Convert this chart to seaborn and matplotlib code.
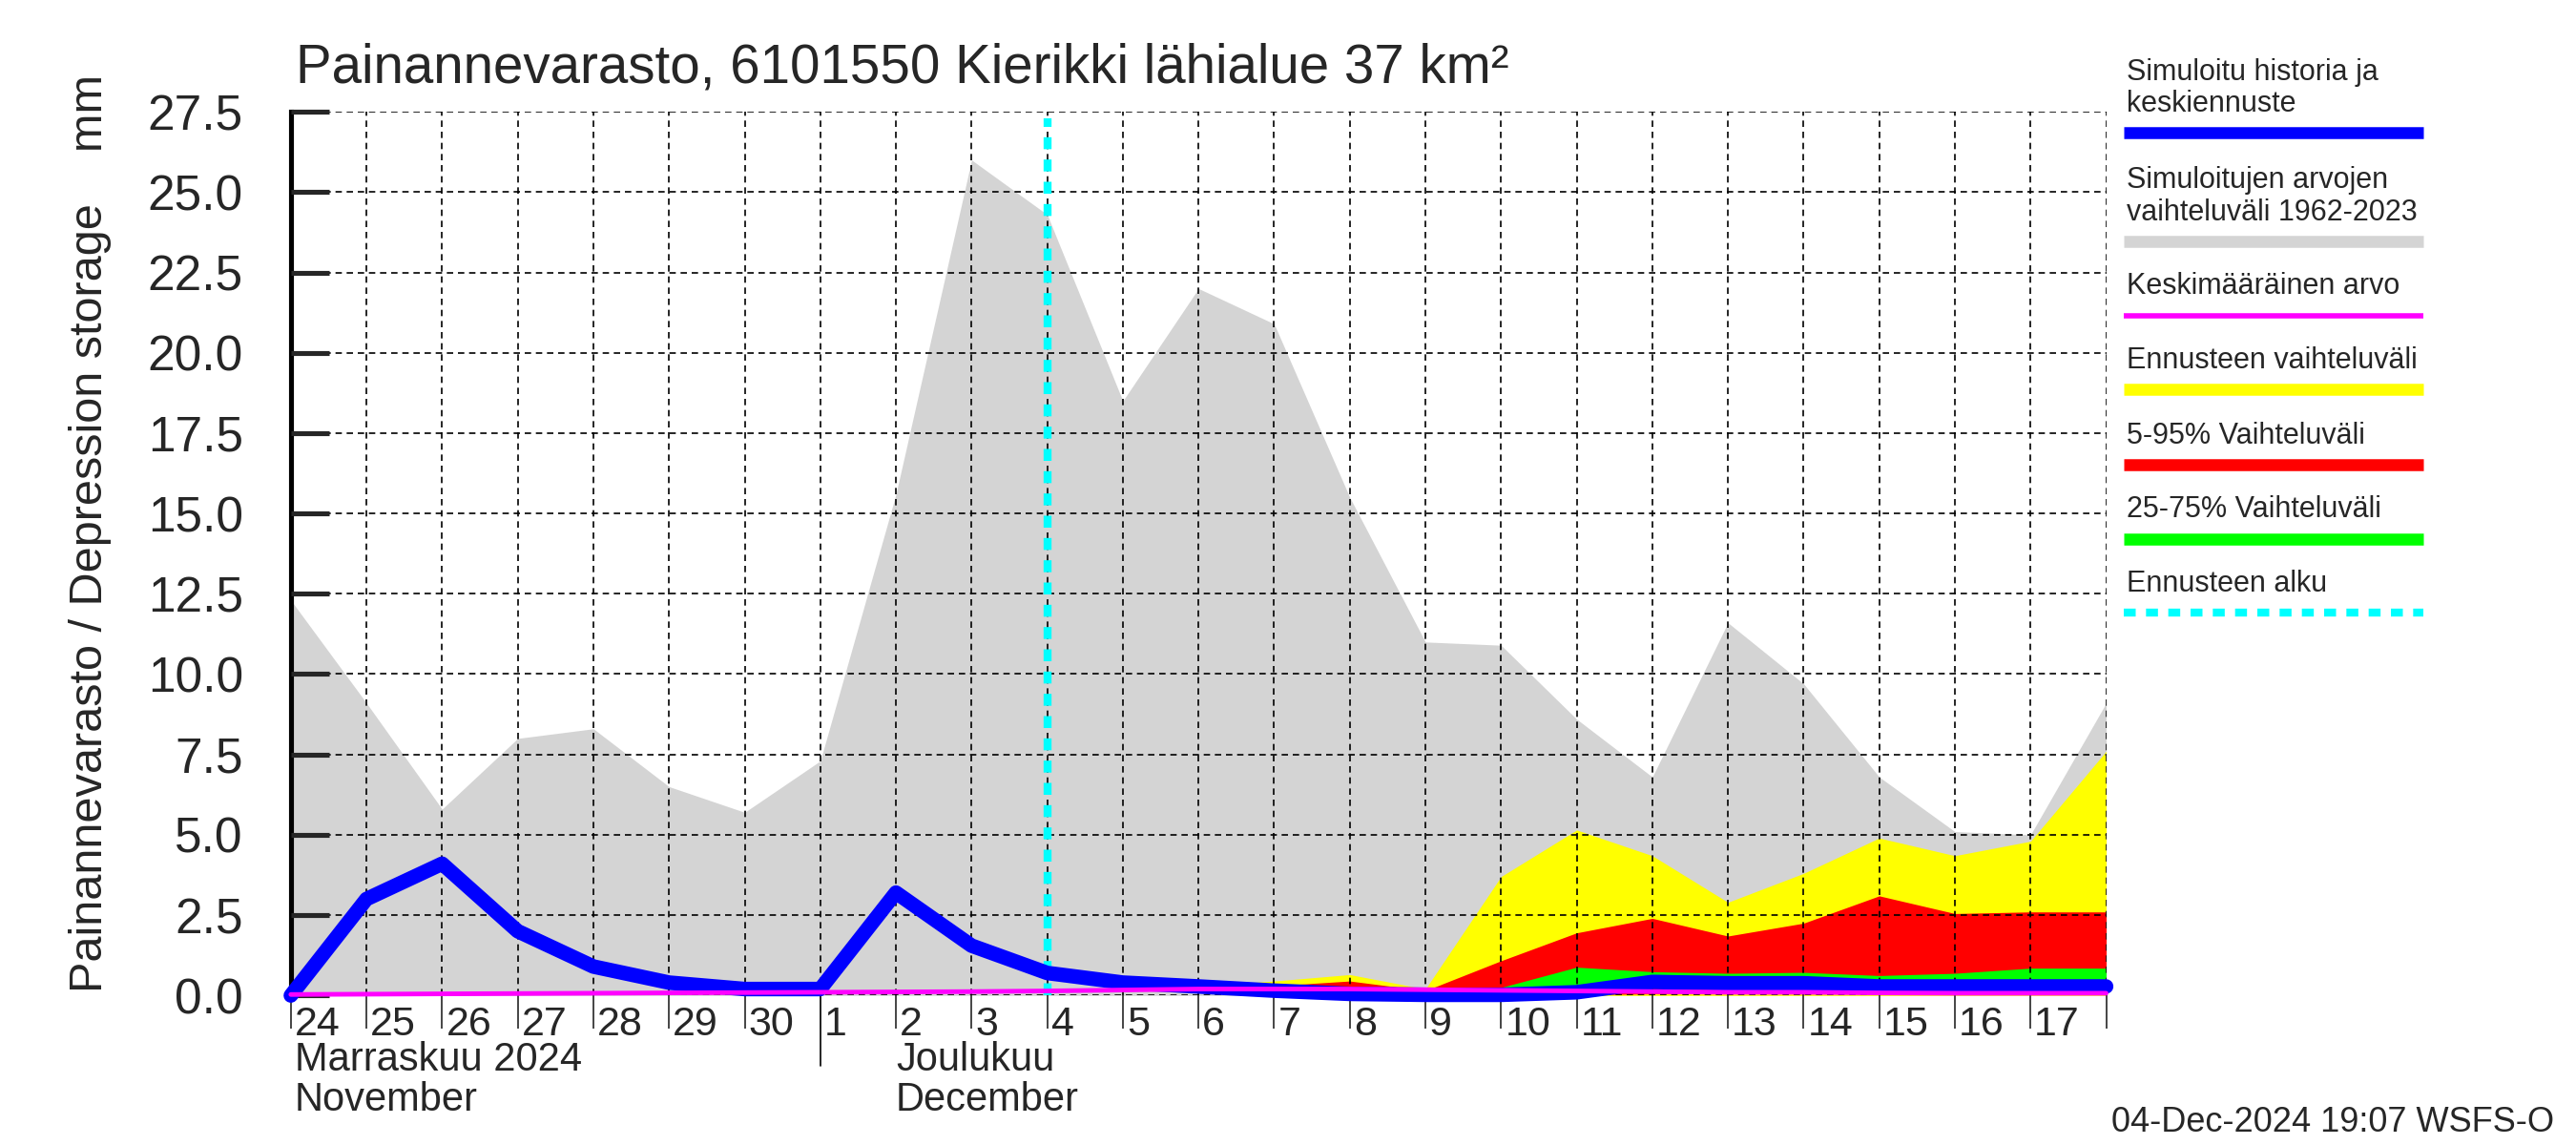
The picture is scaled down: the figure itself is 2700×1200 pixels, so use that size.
import pandas as pd
import numpy as np
import matplotlib
matplotlib.use("Agg")
import matplotlib.pyplot as plt
from matplotlib.lines import Line2D
from matplotlib.ticker import FormatStrFormatter
from matplotlib.transforms import ScaledTranslation, blended_transform_factory
import seaborn as sns

sns.set_style("white")
plt.rcParams["font.family"] = ["Liberation Sans", "DejaVu Sans"]

# daily values 24 Nov .. 18 Dec 2024
dates = pd.date_range("2024-11-24", "2024-12-18", freq="D")
day_labels = [str(d.day) for d in dates[:-1]] + [""]

sim_max = [12.3, 9.1, 5.8, 8.0, 8.3, 6.5, 5.7, 7.3, 15.6, 26.0, 24.3, 18.5, 22.0,
           20.9, 15.5, 11.0, 10.9, 8.6, 6.8, 11.6, 9.7, 6.8, 5.1, 5.0, 9.1]
sim_min = [0.0] * 25
sim_mean = [0.03, 0.04, 0.05, 0.06, 0.07, 0.08, 0.09, 0.10, 0.11, 0.12, 0.14, 0.17, 0.20,
            0.20, 0.20, 0.18, 0.16, 0.14, 0.12, 0.10, 0.10, 0.08, 0.07, 0.07, 0.07]
sim_median = [0.0, 3.0, 4.1, 2.0, 0.9, 0.4, 0.2, 0.2, 3.2, 1.55, 0.7, 0.4, 0.28,
              0.15, 0.05, 0.02, 0.02, 0.1, 0.42, 0.38, 0.38, 0.28, 0.28, 0.28, 0.28]

# forecast 4 Dec .. 18 Dec
fc_dates = dates[10:]
fc_min = [0.65, 0.3, 0.15, 0.05, 0.0, 0.0, 0.0, 0.0, 0.0, 0.0, 0.0, 0.0, 0.0, 0.0, 0.0]
fc_max = [0.7, 0.4, 0.3, 0.45, 0.65, 0.2, 3.7, 5.15, 4.35, 2.9, 3.8, 4.9, 4.35, 4.8, 7.6]
fc_p05 = [0.65, 0.33, 0.18, 0.08, 0.02, 0.0, 0.0, 0.02, 0.05, 0.05, 0.05, 0.05, 0.05, 0.05, 0.05]
fc_p95 = [0.7, 0.38, 0.25, 0.3, 0.45, 0.15, 1.08, 1.95, 2.4, 1.85, 2.25, 3.1, 2.55, 2.6, 2.6]
fc_p25 = [0.68, 0.34, 0.2, 0.1, 0.03, 0.0, 0.0, 0.1, 0.3, 0.3, 0.3, 0.2, 0.2, 0.2, 0.2]
fc_p75 = [0.7, 0.36, 0.22, 0.18, 0.15, 0.05, 0.25, 0.88, 0.74, 0.69, 0.72, 0.62, 0.69, 0.85, 0.85]
forecast_start = pd.Timestamp("2024-12-04")

df = pd.DataFrame({"date": dates, "median": sim_median, "mean": sim_mean})

fig = plt.figure(figsize=(27, 12), dpi=100)
ax = fig.add_axes([0.1129, 0.1306, 0.7047, 0.7718])

ax.fill_between(dates, sim_min, sim_max, color="#d4d4d4", lw=0, zorder=1)
ax.fill_between(fc_dates, fc_min, fc_max, color="#ffff00", lw=0, zorder=1.1)
ax.fill_between(fc_dates, fc_p05, fc_p95, color="#ff0000", lw=0, zorder=1.2)
ax.fill_between(fc_dates, fc_p25, fc_p75, color="#00ff00", lw=0, zorder=1.3)

ax.axvline(forecast_start, ymax=0.993, color="#00ffff", lw=6, ls=(0, (1.5, 1.3)), zorder=2.8)
sns.lineplot(data=df, x="date", y="median", color="#0000ff", lw=11, ax=ax, zorder=3, clip_on=False)
sns.lineplot(data=df, x="date", y="mean", color="#ff00ff", lw=3.5, ax=ax, zorder=3.1, clip_on=False)

ax.set_xlim(dates[0], dates[-1])
ax.set_ylim(0, 27.5)
ax.set_xlabel("")
ax.set_ylabel("")

ax.grid(True, color="black", ls=(0, (4, 3)), lw=1.2)
ax.set_axisbelow(False)
for s in ["top", "right", "bottom"]:
    ax.spines[s].set_visible(False)
ax.spines["left"].set_linewidth(3.7)
ax.spines["left"].set_color("black")

ax.set_yticks(np.arange(0, 27.51, 2.5))
ax.yaxis.set_major_formatter(FormatStrFormatter("%.1f"))
ax.tick_params(axis="y", direction="in", length=29, width=3.7, pad=36, labelsize=37,
               left=True)

ax.set_xticks(dates)
ax.set_xticklabels(day_labels, fontsize=31, ha="left")
ax.tick_params(axis="x", direction="out", length=25, width=1.2, pad=-17, bottom=True)
shift = ScaledTranslation(4 / 100, 0, fig.dpi_scale_trans)
for lab in ax.get_xticklabels():
    lab.set_transform(lab.get_transform() + shift)

# month names under the day numbers
trans = blended_transform_factory(ax.transData, ax.transAxes)
ax.plot([dates[7], dates[7]], [0, -0.08], transform=trans, color="black", lw=1.2, clip_on=False)
ax.text(dates[0], -0.073, "Marraskuu 2024", transform=trans + shift, fontsize=30,
        va="center", ha="left")
ax.text(dates[0], -0.119, "November", transform=trans + shift, fontsize=30,
        va="center", ha="left")
ax.text(dates[8], -0.073, "Joulukuu", transform=trans, fontsize=30, va="center", ha="left")
ax.text(dates[8], -0.119, "December", transform=trans, fontsize=30, va="center", ha="left")

fig.text(0.1148, 0.928, "Painannevarasto, 6101550 Kierikki lähialue 37 km²",
         fontsize=40.7, va="baseline", ha="left")
fig.text(0.035, 0.534, "Painannevarasto / Depression storage    mm", rotation=90,
         fontsize=35, va="center", ha="center")
fig.text(0.9917, 0.012, "04-Dec-2024 19:07 WSFS-O", fontsize=26, va="baseline", ha="right")

# legend, text above each sample line
legend_items = [
    (["Simuloitu historia ja", "keskiennuste"], "#0000ff", 9, "-"),
    (["Simuloitujen arvojen", "vaihteluväli 1962-2023"], "#d4d4d4", 9, "-"),
    (["Keskimääräinen arvo"], "#ff00ff", 4, "-"),
    (["Ennusteen vaihteluväli"], "#ffff00", 9, "-"),
    (["5-95% Vaihteluväli"], "#ff0000", 9, "-"),
    (["25-75% Vaihteluväli"], "#00ff00", 9, "-"),
    (["Ennusteen alku"], "#00ffff", 6, (0, (1.5, 1.3))),
]
line_y = [81, 147, 192, 237, 283, 328, 373]
H = 697.0
lx0, lx1 = 1293 / 1568, 1475 / 1568
for (texts, color, lw, ls), ly in zip(legend_items, line_y):
    fy = 1 - ly / H
    fig.add_artist(Line2D([lx0, lx1], [fy, fy], color=color, lw=lw, ls=ls,
                          transform=fig.transFigure, solid_capstyle="butt"))
    base = ly - 13
    for k, t in enumerate(reversed(texts)):
        fig.text(lx0 + 0.001, 1 - (base - k * 19.5) / H, t, fontsize=22,
                 va="baseline", ha="left")

fig.savefig("out.png", dpi=100)
